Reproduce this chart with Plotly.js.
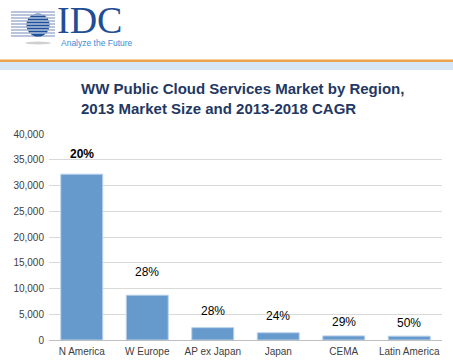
<!DOCTYPE html>
<html>
<head>
<meta charset="utf-8">
<script src="https://cdn.plot.ly/plotly-3.0.1.min.js"></script>
<style>html,body{margin:0;padding:0;background:#fff;}#chart{width:453px;height:362px;}</style>
</head>
<body>
<div id="chart"></div>
<script>
// ---- data ----
var regions = ["N America", "W Europe", "AP ex Japan", "Japan", "CEMA", "Latin America"];
var marketSize2013 = [32200, 8700, 2400, 1400, 800, 750];
var cagr = ["20%", "28%", "28%", "24%", "29%", "50%"];
var yTicks = [0, 5000, 10000, 15000, 20000, 25000, 30000, 35000, 40000];

// ---- label placement (pixel lift above each bar, style only) ----
var labelLift = [11, 14, 8, 8, 5, 4];

// ---- layout helpers (pixel -> paper) ----
var W = 453, H = 362;
var M = {l: 49, r: 11, t: 134, b: 22};
var PW = W - M.l - M.r, PH = H - M.t - M.b;
function px(x) { return (x - M.l) / PW; }
function py(y) { return (H - M.b - y) / PH; }

var FONT = "Liberation Sans, Arial, sans-serif";
var shapes = [];
// orange rule and light-blue band
shapes.push({type: "rect", xref: "paper", yref: "paper", x0: px(0), x1: px(W), y0: py(62), y1: py(70),
  fillcolor: "#D6E6F6", line: {width: 0}, layer: "below"});
shapes.push({type: "rect", xref: "paper", yref: "paper", x0: px(0), x1: px(W), y0: py(59.5), y1: py(62),
  fillcolor: "#EBA44E", line: {width: 0}, layer: "below"});
// logo: shadow, stripes, globe
var gcx = 38, gcy = 25, gr = 11.5;
shapes.push({type: "circle", xref: "paper", yref: "paper", x0: px(gcx - 13), x1: px(gcx + 13), y0: py(41.5), y1: py(44.5),
  fillcolor: "rgba(170,170,175,0.55)", line: {width: 0}});
var stripeYs = [12, 15, 18, 21, 24, 27, 30, 33, 36];
stripeYs.forEach(function (sy) {
  shapes.push({type: "line", xref: "paper", yref: "paper", x0: px(11), x1: px(55), y0: py(sy), y1: py(sy),
    line: {color: "#A3B1D0", width: 1.3}});
});
shapes.push({type: "circle", xref: "paper", yref: "paper", x0: px(gcx - gr), x1: px(gcx + gr), y0: py(gcy + gr), y1: py(gcy - gr),
  fillcolor: "#1E4F98", line: {width: 0}});
stripeYs.forEach(function (sy) {
  var dy = sy - gcy;
  if (Math.abs(dy) < gr - 0.5) {
    var hw = Math.sqrt(gr * gr - dy * dy);
    shapes.push({type: "line", xref: "paper", yref: "paper", x0: px(gcx - hw), x1: px(gcx + hw), y0: py(sy), y1: py(sy),
      line: {color: "#FFFFFF", width: 1}});
  }
});

var annotations = [
  {xref: "paper", yref: "paper", x: px(55), y: py(20), xanchor: "left", yanchor: "middle", showarrow: false,
   text: "IDC", font: {family: "Liberation Serif, Times New Roman, serif", size: 38, color: "#1F4E96"}},
  {xref: "paper", yref: "paper", x: px(59), y: py(42.5), xanchor: "left", yanchor: "middle", showarrow: false,
   text: "Analyze the Future", font: {family: FONT, size: 8.5, color: "#3A8CD6"}},
  {xref: "paper", yref: "paper", x: px(79), y: py(98), xanchor: "left", yanchor: "middle", align: "left", showarrow: false,
   text: "<b>WW Public Cloud Services Market by Region,<br>2013 Market Size and 2013-2018 CAGR</b>",
   font: {family: FONT, size: 15, color: "#1F3864"}}
];
regions.forEach(function (r, i) {
  annotations.push({x: r, y: marketSize2013[i], xref: "x", yref: "y", yanchor: "bottom", showarrow: false,
    yshift: labelLift[i], text: i === 0 ? "<b>" + cagr[i] + "</b>" : cagr[i],
    font: {family: FONT, size: 12, color: "#000000"}});
});

var data = [{
  type: "bar", x: regions, y: marketSize2013,
  marker: {color: "#6699CC", line: {color: "#B9D0EA", width: 1}},
  hoverinfo: "x+y"
}];

var layout = {
  width: W, height: H,
  margin: M,
  paper_bgcolor: "#FFFFFF", plot_bgcolor: "#FFFFFF",
  showlegend: false,
  bargap: 0.36,
  font: {family: FONT, size: 10, color: "#404040"},
  xaxis: {
    type: "category", showgrid: false, zeroline: false, showline: true, linecolor: "#BFBFBF", linewidth: 1,
    ticks: "", ticklabelstandoff: 2, tickfont: {family: FONT, size: 10, color: "#404040"}, fixedrange: true
  },
  yaxis: {
    range: [0, 40000], tickvals: yTicks, tickformat: ",d", showgrid: true, gridcolor: "#D9D9D9", gridwidth: 1,
    zeroline: false, showline: false, ticks: "", ticklabelstandoff: 4,
    tickfont: {family: FONT, size: 10, color: "#404040"}, fixedrange: true
  },
  shapes: shapes,
  annotations: annotations
};

Plotly.newPlot("chart", data, layout, {displayModeBar: false, staticPlot: true});
</script>
</body>
</html>
